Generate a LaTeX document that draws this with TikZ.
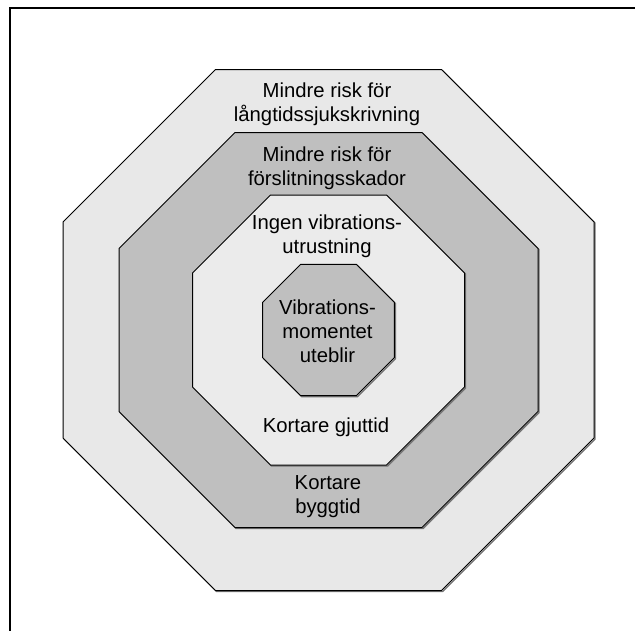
\documentclass[tikz,border=0pt]{standalone}
\usepackage{fontspec}
\setmainfont{Liberation Sans}
\begin{document}
\begin{tikzpicture}[x=1pt,y=-1pt,
  ring/.style={draw=black,line width=1,line join=miter},
  shade/.style={draw=black!55,line width=1.4},
  lbl/.style={align=center,inner sep=0pt,anchor=base,
    font=\fontsize{20.3}{24}\selectfont}]
\useasboundingbox (0,0) rectangle (635,630);
% octagon with half width #1, half height #2 and corner cut #3, centred on (328.5,330)
\newcommand\octpath[3]{%
  (328.5-#1+#3,330-#2) -- (328.5+#1-#3,330-#2) -- (328.5+#1,330-#2+#3) --
  (328.5+#1,330+#2-#3) -- (328.5+#1-#3,330+#2) -- (328.5-#1+#3,330+#2) --
  (328.5-#1,330+#2-#3) -- (328.5-#1,330-#2+#3) -- cycle}
% frame, only its top and left edges fall inside the picture
\draw[line width=2] (9.5,640) -- (9.5,7.5) -- (645,7.5);
% rings from outside in
\draw[shade,shift={(1,1)}] \octpath{265.5}{260.5}{152.5};
\path[ring,fill=black!9] \octpath{265.5}{260.5}{152.5};
\draw[shade,shift={(1,1)}] \octpath{209.5}{197.5}{116};
\path[ring,fill=black!25] \octpath{209.5}{197.5}{116};
\draw[shade,shift={(1,1)}] \octpath{136}{135}{78};
\path[ring,fill=black!8] \octpath{136}{135}{78};
\draw[shade,shift={(1,1)}] \octpath{65.8}{65.7}{38};
\path[ring,fill=black!25] \octpath{65.8}{65.7}{38};
% labels, placed by the baseline of their last line
\node[lbl] (t1) at (327,121) {Mindre risk för\\långtidssjukskrivning};
\node[lbl] (t2) at (327,185.7) {Mindre risk för\\förslitningsskador};
\node[lbl] (t3) at (327,253) {Ingen vibrations-\\utrustning};
\node[lbl] (t4) at (327.5,362.3) {Vibrations-\\momentet\\uteblir};
\node[lbl] (t5) at (326,432.7) {Kortare gjuttid};
\node[lbl] (t6) at (328,513.3) {Kortare\\byggtid};
\end{tikzpicture}
\end{document}
